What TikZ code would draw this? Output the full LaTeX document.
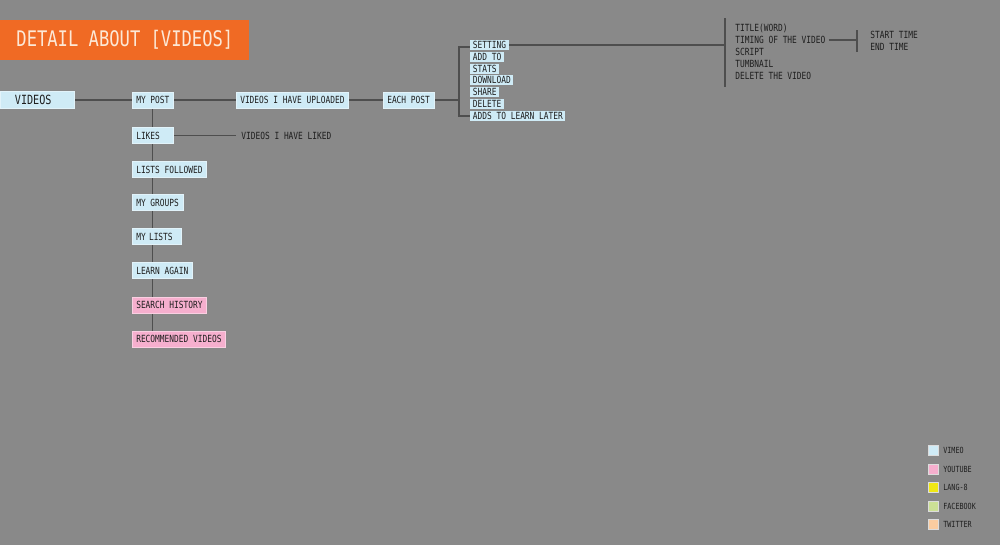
\documentclass[tikz,border=0pt]{standalone}
\usepackage{fontspec}
\usepackage{tikz}
\usetikzlibrary{backgrounds}
\newfontfamily\monofont[FakeStretch=0.8]{DejaVu Sans Mono}
\definecolor{backgray}{RGB}{137,137,137}
\definecolor{titleorange}{RGB}{240,106,36}
\definecolor{titletext}{RGB}{252,232,214}
\definecolor{vimeo}{RGB}{207,235,246}
\definecolor{youtube}{RGB}{246,175,206}
\definecolor{langeight}{RGB}{240,232,20}
\definecolor{facebook}{RGB}{204,224,150}
\definecolor{twitter}{RGB}{250,204,160}
\definecolor{linegray}{RGB}{78,78,78}
\definecolor{textdark}{RGB}{30,30,30}

\begin{document}
\begin{tikzpicture}[scale=0.2]
\tikzstyle{every node}+=[inner sep=0pt, text=textdark, font=\monofont\fontsize{5.6}{7}\selectfont]
\tikzstyle{item}=[fill=vimeo, draw=vimeo!60!white, line width=0.3pt, minimum height=0.32cm, inner xsep=0.08cm, anchor=west]
\tikzstyle{subitem}=[fill=vimeo, minimum height=0.2cm, inner xsep=0.05cm, anchor=west]
\tikzstyle{plain}=[anchor=west, inner xsep=0.04cm]
\tikzstyle{swatch}=[minimum size=0.2cm, draw=white!70!backgray, line width=0.2pt]
\tikzstyle{legendtext}=[anchor=west, font=\monofont\fontsize{4.8}{6}\selectfont]
\tikzstyle{link}=[linegray, line width=0.6pt]
\useasboundingbox (0,0) rectangle (100,-54.5);
\begin{pgfonlayer}{background}
\fill [backgray] (0,0) rectangle (100,-54.5);
\end{pgfonlayer}
% title
\node [fill=titleorange, text=titletext, anchor=west, minimum height=0.8cm, minimum width=4.98cm, font=\monofont\fontsize{12.2}{15}\selectfont] (title) at (0,-4.0) {DETAIL ABOUT [VIDEOS]};
% main column
\node [item, text width=0.9cm, inner xsep=0.294cm, minimum height=0.33cm, align=left, font=\monofont\fontsize{7.2}{9}\selectfont] (videos) at (0,-10.0) {VIDEOS};
\node [item] (mypost) at (13.2,-10.0) {MY POST};
\node [item, text width=0.66cm, align=left] (likes) at (13.2,-13.55) {LIKES};
\node [item] (listsfollowed) at (13.2,-16.95) {LISTS FOLLOWED};
\node [item] (mygroups) at (13.2,-20.25) {MY GROUPS};
\node [item, text width=0.82cm, align=left] (mylists) at (13.2,-23.65) {MY LISTS};
\node [item] (learnagain) at (13.2,-27.05) {LEARN AGAIN};
\node [item, fill=youtube, draw=youtube!60!white] (searchhistory) at (13.2,-30.5) {SEARCH HISTORY};
\node [item, fill=youtube, draw=youtube!60!white] (recvideos) at (13.2,-33.9) {RECOMMENDED VIDEOS};
% my post
\node [item] (uploaded) at (23.6,-10.0) {VIDEOS I HAVE UPLOADED};
\node [item] (eachpost) at (38.3,-10.0) {EACH POST};
% likes
\node [plain, inner xsep=0.1cm] (liked) at (23.6,-13.55) {VIDEOS I HAVE LIKED};
% each post
\coordinate (postfork) at (45.9,-10.0);
\coordinate (posttop) at (45.9,-4.7);
\coordinate (postbottom) at (45.9,-11.6);
\node [subitem] (setting) at (47.0,-4.5) {SETTING};
\node [subitem] (addto) at (47.0,-5.7) {ADD TO};
\node [subitem] (stats) at (47.0,-6.9) {STATS};
\node [subitem] (download) at (47.0,-8.0) {DOWNLOAD};
\node [subitem] (share) at (47.0,-9.2) {SHARE};
\node [subitem] (delete) at (47.0,-10.4) {DELETE};
\node [subitem] (learnlater) at (47.0,-11.6) {ADDS TO LEARN LATER};
% setting
\coordinate (settop) at (72.5,-1.9);
\coordinate (setbottom) at (72.5,-8.6);
\node [plain] (titleword) at (73.3,-2.8) {TITLE(WORD)};
\node [plain] (timing) at (73.3,-4.0) {TIMING OF THE VIDEO};
\node [plain] (script) at (73.3,-5.2) {SCRIPT};
\node [plain] (tumbnail) at (73.3,-6.4) {TUMBNAIL};
\node [plain] (deletevideo) at (73.3,-7.6) {DELETE THE VIDEO};
% timing
\coordinate (timetop) at (85.7,-3.1);
\coordinate (timebottom) at (85.7,-5.15);
\node [plain] (starttime) at (86.8,-3.5) {START TIME};
\node [plain] (endtime) at (86.8,-4.7) {END TIME};
% connectors, behind the boxes
\begin{pgfonlayer}{background}
\draw [link] (videos.east) -- (mypost.west);
\draw [link] (mypost.south) -- (mypost.south |- recvideos.north);
\draw [link] (mypost.east) -- (uploaded.west);
\draw [link] (uploaded.east) -- (eachpost.west);
\draw [link] (likes.east) -- (liked.west);
\draw [link] (eachpost.east) -- (postfork);
\draw [link] (setting.west |- posttop) -- (posttop) -- (postbottom) -- (learnlater.west);
\draw [link] (setting.east) -- (setting.east -| settop);
\draw [link] ([xshift=0.14cm]settop) -- (settop) -- (setbottom) -- ([xshift=0.14cm]setbottom);
\draw [link] ([xshift=0.08cm]timing.east) -- (timing.east -| timetop);
\draw [link] ([xshift=0.1cm]timetop) -- (timetop) -- (timebottom) -- ([xshift=0.1cm]timebottom);
\end{pgfonlayer}
% legend
\node [swatch, fill=vimeo] (keyvimeo) at (93.3,-45.05) {};
\node [swatch, fill=youtube] (keyyoutube) at (93.3,-46.9) {};
\node [swatch, fill=langeight] (keylang) at (93.3,-48.75) {};
\node [swatch, fill=facebook] (keyfacebook) at (93.3,-50.6) {};
\node [swatch, fill=twitter] (keytwitter) at (93.3,-52.45) {};
\node [legendtext] (labvimeo) at (94.3,-45.05) {VIMEO};
\node [legendtext] (labyoutube) at (94.3,-46.9) {YOUTUBE};
\node [legendtext] (lablang) at (94.3,-48.75) {LANG-8};
\node [legendtext] (labfacebook) at (94.3,-50.6) {FACEBOOK};
\node [legendtext] (labtwitter) at (94.3,-52.45) {TWITTER};
\end{tikzpicture}
\end{document}
